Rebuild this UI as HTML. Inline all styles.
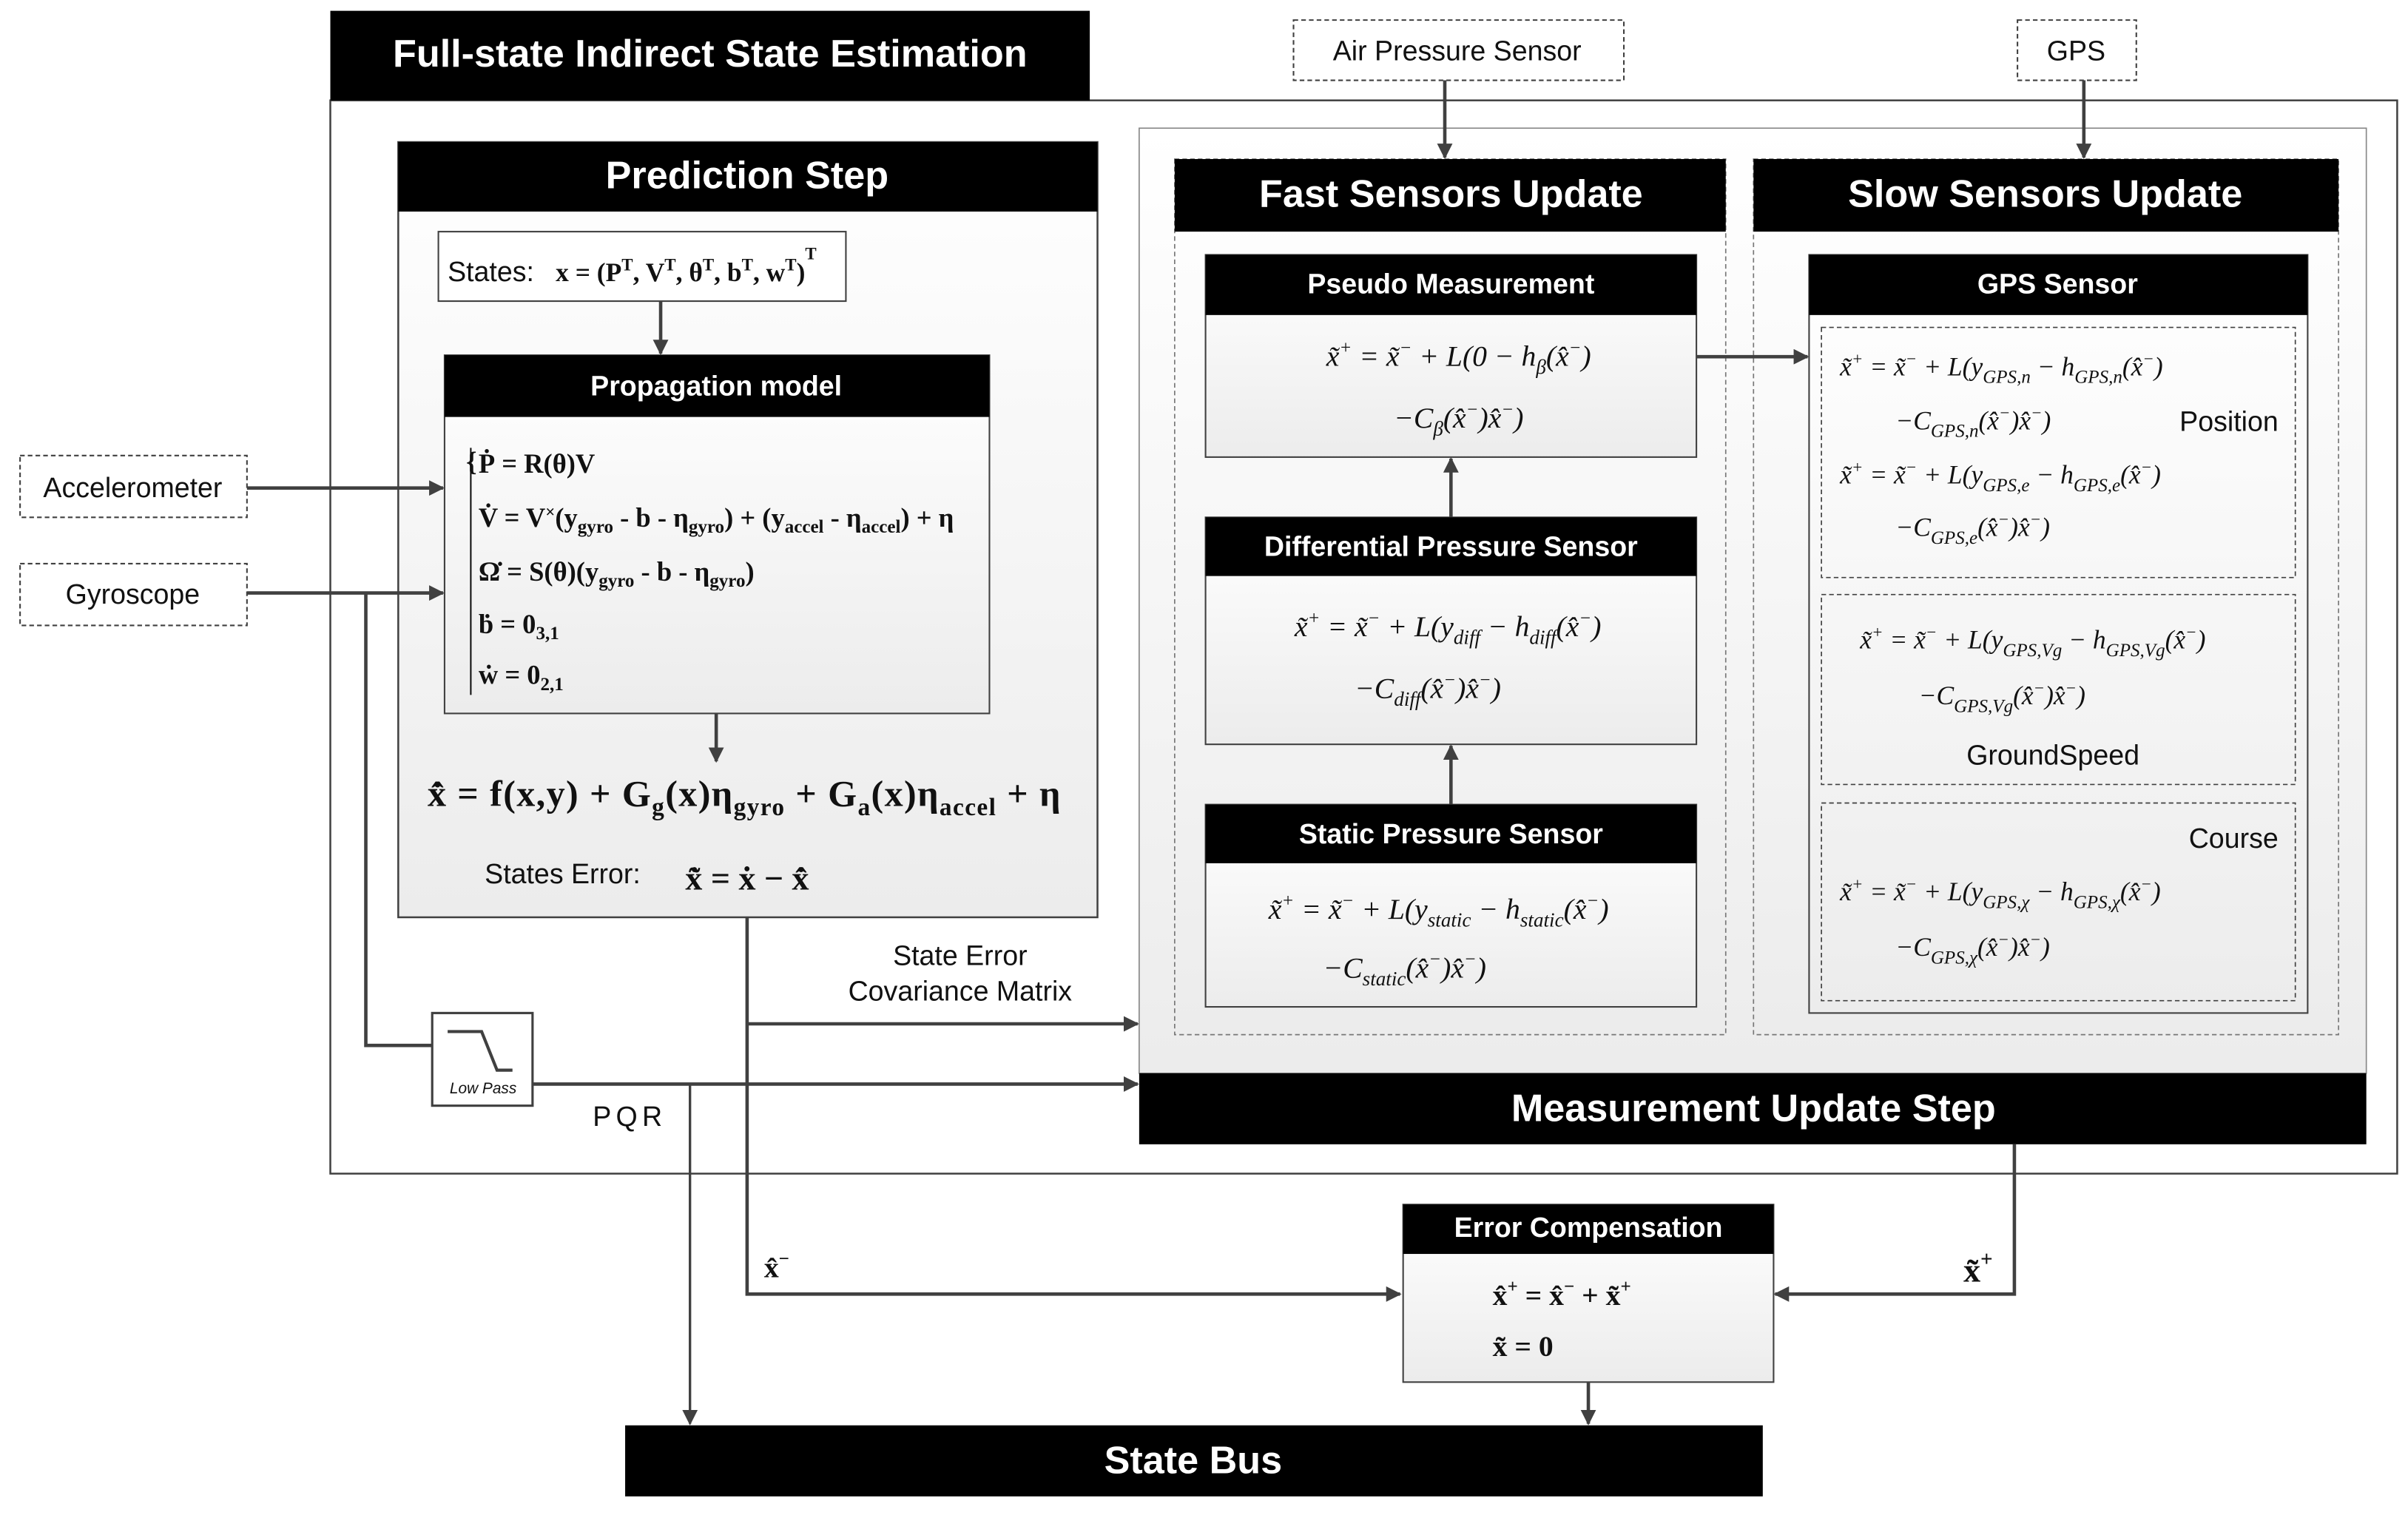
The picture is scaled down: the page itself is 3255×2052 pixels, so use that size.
<!DOCTYPE html>
<html><head><meta charset="utf-8"><style>html,body{margin:0;padding:0;background:#fff}svg{display:block}</style></head>
<body>
<svg xmlns="http://www.w3.org/2000/svg" width="3255" height="2052" viewBox="0 0 1560 983" preserveAspectRatio="none" font-family="Liberation Sans, sans-serif">
<defs>
<linearGradient id="g" x1="0" y1="0" x2="0" y2="1"><stop offset="0" stop-color="#ffffff"/><stop offset="1" stop-color="#ececec"/></linearGradient>
<marker id="a" markerWidth="10" markerHeight="10" refX="9" refY="5" orient="auto" markerUnits="userSpaceOnUse"><path d="M0,0 L10,5 L0,10 Z" fill="#404040"/></marker>
</defs>
<g fill="none" stroke="#404040">
<rect x="214" y="65" width="1339" height="695" stroke-width="1.2"/>
<rect x="738" y="83" width="795" height="612" fill="url(#g)" stroke="#888" stroke-width="0.8"/>
<rect x="258" y="92" width="453" height="502" fill="url(#g)" stroke-width="1.2"/>
<rect x="284" y="150" width="264" height="45" fill="#fff" stroke-width="1"/>
<rect x="288" y="230" width="353" height="232" fill="url(#g)" stroke-width="1"/>
<rect x="13" y="295" width="147" height="40" fill="#fff" stroke-dasharray="3,2" stroke-width="1"/>
<rect x="13" y="365" width="147" height="40" fill="#fff" stroke-dasharray="3,2" stroke-width="1"/>
<rect x="838" y="13" width="214" height="39" fill="#fff" stroke-dasharray="3,2" stroke-width="1"/>
<rect x="1307" y="13" width="77" height="39" fill="#fff" stroke-dasharray="3,2" stroke-width="1"/>
<rect x="761" y="103" width="357" height="567" fill="url(#g)" stroke="#777" stroke-dasharray="3,2" stroke-width="0.8"/>
<rect x="1136" y="103" width="379" height="567" fill="url(#g)" stroke="#777" stroke-dasharray="3,2" stroke-width="0.8"/>
<rect x="781" y="165" width="318" height="131" fill="url(#g)" stroke-width="1"/>
<rect x="781" y="335" width="318" height="147" fill="url(#g)" stroke-width="1"/>
<rect x="781" y="521" width="318" height="131" fill="url(#g)" stroke-width="1"/>
<rect x="1172" y="165" width="323" height="491" fill="url(#g)" stroke-width="1"/>
<rect x="1180" y="212" width="307" height="162" stroke-dasharray="3,2" stroke-width="0.8"/>
<rect x="1180" y="385" width="307" height="123" stroke-dasharray="3,2" stroke-width="0.8"/>
<rect x="1180" y="520" width="307" height="128" stroke-dasharray="3,2" stroke-width="0.8"/>
<rect x="909" y="780" width="240" height="115" fill="url(#g)" stroke-width="1"/>
<rect x="280" y="656" width="65" height="60" fill="#fff" stroke-width="1.5"/>
<polyline points="290,668 312,668 322,693 332,693" stroke-width="2"/>
<g stroke-width="2.2">
<line x1="428" y1="195" x2="428" y2="229" marker-end="url(#a)"/>
<line x1="464" y1="462" x2="464" y2="493" marker-end="url(#a)"/>
<line x1="160" y1="316" x2="287" y2="316" marker-end="url(#a)"/>
<line x1="160" y1="384" x2="287" y2="384" marker-end="url(#a)"/>
<polyline points="237,384 237,677 280,677"/>
<line x1="345" y1="702" x2="737" y2="702" marker-end="url(#a)"/>
<line x1="447" y1="702" x2="447" y2="922" marker-end="url(#a)" stroke-width="1.6"/>
<polyline points="484,594 484,838 907,838" marker-end="url(#a)"/>
<line x1="484" y1="663" x2="737" y2="663" marker-end="url(#a)"/>
<line x1="936" y1="52" x2="936" y2="102" marker-end="url(#a)"/>
<line x1="1350" y1="52" x2="1350" y2="102" marker-end="url(#a)"/>
<line x1="1099" y1="231" x2="1171" y2="231" marker-end="url(#a)"/>
<line x1="940" y1="335" x2="940" y2="297" marker-end="url(#a)"/>
<line x1="940" y1="521" x2="940" y2="483" marker-end="url(#a)"/>
<polyline points="1305,741 1305,838 1150,838" marker-end="url(#a)"/>
<line x1="1029" y1="895" x2="1029" y2="922" marker-end="url(#a)"/>
</g>
</g>
<g fill="#000">
<rect x="214" y="7" width="492" height="58"/>
<rect x="258" y="92" width="453" height="45"/>
<rect x="288" y="230" width="353" height="40"/>
<rect x="761" y="103" width="357" height="47"/>
<rect x="1136" y="103" width="379" height="47"/>
<rect x="781" y="165" width="318" height="39"/>
<rect x="781" y="335" width="318" height="38"/>
<rect x="781" y="521" width="318" height="38"/>
<rect x="1172" y="165" width="323" height="39"/>
<rect x="738" y="695" width="795" height="46"/>
<rect x="909" y="780" width="240" height="32"/>
<rect x="405" y="923" width="737" height="46"/>
</g>
<g fill="#fff" font-weight="bold" text-anchor="middle">
<text x="460" y="43" font-size="25">Full-state Indirect State Estimation</text>
<text x="484" y="122" font-size="25">Prediction Step</text>
<text x="464" y="256" font-size="18">Propagation model</text>
<text x="940" y="134" font-size="25">Fast Sensors Update</text>
<text x="1325" y="134" font-size="25">Slow Sensors Update</text>
<text x="940" y="190" font-size="18">Pseudo Measurement</text>
<text x="940" y="360" font-size="18">Differential Pressure Sensor</text>
<text x="940" y="546" font-size="18">Static Pressure Sensor</text>
<text x="1333" y="190" font-size="18">GPS Sensor</text>
<text x="1136" y="726" font-size="25">Measurement Update Step</text>
<text x="1029" y="801" font-size="18">Error Compensation</text>
<text x="773" y="954" font-size="25">State Bus</text>
</g>
<g fill="#111" font-size="18">
<text x="86" y="322" text-anchor="middle">Accelerometer</text>
<text x="86" y="391" text-anchor="middle">Gyroscope</text>
<text x="944" y="39" text-anchor="middle">Air Pressure Sensor</text>
<text x="1345" y="39" text-anchor="middle">GPS</text>
<text x="622" y="625" text-anchor="middle">State Error</text>
<text x="622" y="648" text-anchor="middle">Covariance Matrix</text>
<text x="408" y="729" text-anchor="middle" letter-spacing="3">PQR</text>
<text x="313" y="708" text-anchor="middle" font-size="10" font-style="italic">Low Pass</text>
<text x="1476" y="279" text-anchor="end">Position</text>
<text x="1330" y="495" text-anchor="middle">GroundSpeed</text>
<text x="1476" y="549" text-anchor="end">Course</text>
<text x="290" y="182">States:</text>
<text x="314" y="572">States Error:</text>
</g>
<g fill="#111" font-family="Liberation Serif, serif">
<text x="360" y="182" font-size="17" font-weight="bold">x = (P<tspan font-size="11" dy="-7">T</tspan><tspan dy="7">, V</tspan><tspan font-size="11" dy="-7">T</tspan><tspan dy="7">, θ</tspan><tspan font-size="11" dy="-7">T</tspan><tspan dy="7">, b</tspan><tspan font-size="11" dy="-7">T</tspan><tspan dy="7">, w</tspan><tspan font-size="11" dy="-7">T</tspan><tspan dy="7">)</tspan><tspan font-size="11" dy="-14">T</tspan></text>
<g font-size="17.5" font-weight="bold">
<text x="302" y="305">{</text>
<text x="310" y="306">Ṗ = R(θ)V</text>
<text x="310" y="341">V̇ = V<tspan font-size="11" dy="-6">×</tspan><tspan dy="6">(y</tspan><tspan font-size="12" dy="4">gyro</tspan><tspan dy="-4"> - b - η</tspan><tspan font-size="12" dy="4">gyro</tspan><tspan dy="-4">) + (y</tspan><tspan font-size="12" dy="4">accel</tspan><tspan dy="-4"> - η</tspan><tspan font-size="12" dy="4">accel</tspan><tspan dy="-4">) + η</tspan></text>
<text x="310" y="376">Ω̇ = S(θ)(y<tspan font-size="12" dy="4">gyro</tspan><tspan dy="-4"> - b - η</tspan><tspan font-size="12" dy="4">gyro</tspan><tspan dy="-4">)</tspan></text>
<text x="310" y="410">ḃ = 0<tspan font-size="12" dy="4">3,1</tspan></text>
<text x="310" y="443">ẇ = 0<tspan font-size="12" dy="4">2,1</tspan></text>
</g>
<line x1="305" y1="290" x2="305" y2="450" stroke="#111" stroke-width="1"/>
<text x="277" y="522" font-size="24" font-weight="bold" textLength="410" lengthAdjust="spacing">x̂̇ = f(x,y) + G<tspan font-size="16" dy="6">g</tspan><tspan dy="-6">(x)η</tspan><tspan font-size="16" dy="6">gyro</tspan><tspan dy="-6"> + G</tspan><tspan font-size="16" dy="6">a</tspan><tspan dy="-6">(x)η</tspan><tspan font-size="16" dy="6">accel</tspan><tspan dy="-6"> + η</tspan></text>
<text x="444" y="576" font-size="22" font-weight="bold">x̃̇ = ẋ − x̂̇</text>
<g font-size="19" font-style="italic" text-anchor="middle">
<text x="945" y="237">x̃<tspan font-size="12" dy="-8">+</tspan><tspan dy="8"> = x̃</tspan><tspan font-size="12" dy="-8">−</tspan><tspan dy="8"> + L(0 − h</tspan><tspan font-size="13" dy="5">β</tspan><tspan dy="-5">(x̂</tspan><tspan font-size="12" dy="-8">−</tspan><tspan dy="8">)</tspan></text>
<text x="945" y="277">−C<tspan font-size="13" dy="5">β</tspan><tspan dy="-5">(x̂</tspan><tspan font-size="12" dy="-8">−</tspan><tspan dy="8">)x̂</tspan><tspan font-size="12" dy="-8">−</tspan><tspan dy="8">)</tspan></text>
<text x="938" y="412">x̃<tspan font-size="12" dy="-8">+</tspan><tspan dy="8"> = x̃</tspan><tspan font-size="12" dy="-8">−</tspan><tspan dy="8"> + L(y</tspan><tspan font-size="13" dy="5">diff</tspan><tspan dy="-5"> − h</tspan><tspan font-size="13" dy="5">diff</tspan><tspan dy="-5">(x̂</tspan><tspan font-size="12" dy="-8">−</tspan><tspan dy="8">)</tspan></text>
<text x="925" y="452">−C<tspan font-size="13" dy="5">diff</tspan><tspan dy="-5">(x̂</tspan><tspan font-size="12" dy="-8">−</tspan><tspan dy="8">)x̂</tspan><tspan font-size="12" dy="-8">−</tspan><tspan dy="8">)</tspan></text>
<text x="932" y="595">x̃<tspan font-size="12" dy="-8">+</tspan><tspan dy="8"> = x̃</tspan><tspan font-size="12" dy="-8">−</tspan><tspan dy="8"> + L(y</tspan><tspan font-size="13" dy="5">static</tspan><tspan dy="-5"> − h</tspan><tspan font-size="13" dy="5">static</tspan><tspan dy="-5">(x̂</tspan><tspan font-size="12" dy="-8">−</tspan><tspan dy="8">)</tspan></text>
<text x="910" y="633">−C<tspan font-size="13" dy="5">static</tspan><tspan dy="-5">(x̂</tspan><tspan font-size="12" dy="-8">−</tspan><tspan dy="8">)x̂</tspan><tspan font-size="12" dy="-8">−</tspan><tspan dy="8">)</tspan></text>
</g>
<g font-size="17" font-style="italic">
<text x="1192" y="243">x̃<tspan font-size="11" dy="-7">+</tspan><tspan dy="7"> = x̃</tspan><tspan font-size="11" dy="-7">−</tspan><tspan dy="7"> + L(y</tspan><tspan font-size="12" dy="5">GPS,n</tspan><tspan dy="-5"> − h</tspan><tspan font-size="12" dy="5">GPS,n</tspan><tspan dy="-5">(x̂</tspan><tspan font-size="11" dy="-7">−</tspan><tspan dy="7">)</tspan></text>
<text x="1228" y="278">−C<tspan font-size="12" dy="5">GPS,n</tspan><tspan dy="-5">(x̂</tspan><tspan font-size="11" dy="-7">−</tspan><tspan dy="7">)x̂</tspan><tspan font-size="11" dy="-7">−</tspan><tspan dy="7">)</tspan></text>
<text x="1192" y="313">x̃<tspan font-size="11" dy="-7">+</tspan><tspan dy="7"> = x̃</tspan><tspan font-size="11" dy="-7">−</tspan><tspan dy="7"> + L(y</tspan><tspan font-size="12" dy="5">GPS,e</tspan><tspan dy="-5"> − h</tspan><tspan font-size="12" dy="5">GPS,e</tspan><tspan dy="-5">(x̂</tspan><tspan font-size="11" dy="-7">−</tspan><tspan dy="7">)</tspan></text>
<text x="1228" y="347">−C<tspan font-size="12" dy="5">GPS,e</tspan><tspan dy="-5">(x̂</tspan><tspan font-size="11" dy="-7">−</tspan><tspan dy="7">)x̂</tspan><tspan font-size="11" dy="-7">−</tspan><tspan dy="7">)</tspan></text>
<text x="1205" y="420">x̃<tspan font-size="11" dy="-7">+</tspan><tspan dy="7"> = x̃</tspan><tspan font-size="11" dy="-7">−</tspan><tspan dy="7"> + L(y</tspan><tspan font-size="12" dy="5">GPS,Vg</tspan><tspan dy="-5"> − h</tspan><tspan font-size="12" dy="5">GPS,Vg</tspan><tspan dy="-5">(x̂</tspan><tspan font-size="11" dy="-7">−</tspan><tspan dy="7">)</tspan></text>
<text x="1243" y="456">−C<tspan font-size="12" dy="5">GPS,Vg</tspan><tspan dy="-5">(x̂</tspan><tspan font-size="11" dy="-7">−</tspan><tspan dy="7">)x̂</tspan><tspan font-size="11" dy="-7">−</tspan><tspan dy="7">)</tspan></text>
<text x="1192" y="583">x̃<tspan font-size="11" dy="-7">+</tspan><tspan dy="7"> = x̃</tspan><tspan font-size="11" dy="-7">−</tspan><tspan dy="7"> + L(y</tspan><tspan font-size="12" dy="5">GPS,χ</tspan><tspan dy="-5"> − h</tspan><tspan font-size="12" dy="5">GPS,χ</tspan><tspan dy="-5">(x̂</tspan><tspan font-size="11" dy="-7">−</tspan><tspan dy="7">)</tspan></text>
<text x="1228" y="619">−C<tspan font-size="12" dy="5">GPS,χ</tspan><tspan dy="-5">(x̂</tspan><tspan font-size="11" dy="-7">−</tspan><tspan dy="7">)x̂</tspan><tspan font-size="11" dy="-7">−</tspan><tspan dy="7">)</tspan></text>
</g>
<g font-size="19" font-weight="bold">
<text x="967" y="845">x̂<tspan font-size="12" dy="-8">+</tspan><tspan dy="8"> = x̂</tspan><tspan font-size="12" dy="-8">−</tspan><tspan dy="8"> + x̃</tspan><tspan font-size="12" dy="-8">+</tspan></text>
<text x="967" y="878">x̃ = 0</text>
<text x="495" y="827">x̂<tspan font-size="12" dy="-8">−</tspan></text>
<text x="1272" y="830" font-size="22">x̃<tspan font-size="14" dy="-10">+</tspan></text>
</g>
</g>
</svg>
</body></html>
